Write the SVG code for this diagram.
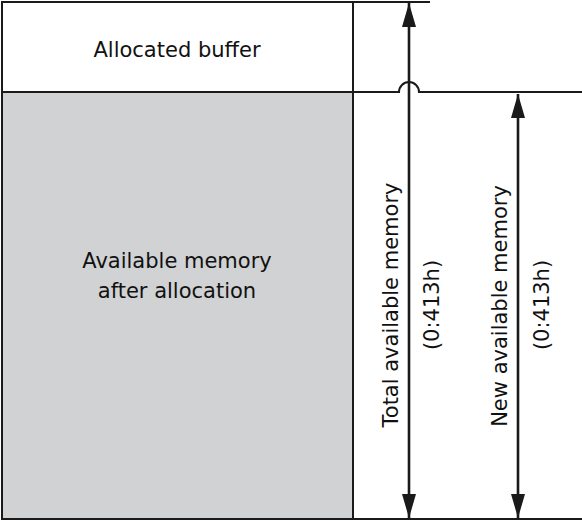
<svg xmlns="http://www.w3.org/2000/svg" width="582" height="521" viewBox="0 0 582 521">
<style>
.ln{fill:none;stroke:#1a1a1a;stroke-width:2}
.ar{fill:none;stroke:#1a1a1a;stroke-width:2.6}
.t{font-family:"DejaVu Sans",sans-serif;font-size:21px;fill:#111111;text-anchor:middle}
</style>
<defs>
<marker id="ah" markerUnits="userSpaceOnUse" markerWidth="24" markerHeight="14" refX="24" refY="7" orient="auto-start-reverse" viewBox="0 0 24 14">
<polygon points="0,0 24,7 0,14" fill="#1a1a1a"/>
</marker>
</defs>
<rect width="582" height="521" fill="#ffffff"/>
<g id="allocated-buffer">
<rect x="2" y="2" width="351" height="90" fill="#ffffff" stroke="#1a1a1a" stroke-width="2"/>
<text class="t" x="177" y="57">Allocated buffer</text>
</g>
<g id="available-memory">
<rect x="2" y="92" width="351" height="427" fill="#d1d2d3" stroke="#1a1a1a" stroke-width="2"/>
<text class="t" x="177" y="268">Available memory</text>
<text class="t" x="177" y="298">after allocation</text>
</g>
<g id="connectors">
<path class="ln" d="M353,2 H430"/>
<path class="ln" d="M353,92 H399 A10,10 0 0 1 419,92 H582"/>
<path class="ln" d="M353,519 H582"/>
<path class="ar" d="M409,3 V518" marker-start="url(#ah)" marker-end="url(#ah)"/>
<path class="ar" d="M518,94 V518" marker-start="url(#ah)" marker-end="url(#ah)"/>
</g>
<g id="total-label">
<text class="t" transform="translate(398,305) rotate(-90)">Total available memory</text>
<text class="t" transform="translate(439,305) rotate(-90)">(0:413h)</text>
</g>
<g id="new-label">
<text class="t" transform="translate(507,306) rotate(-90)">New available memory</text>
<text class="t" transform="translate(549,305) rotate(-90)">(0:413h)</text>
</g>
</svg>
